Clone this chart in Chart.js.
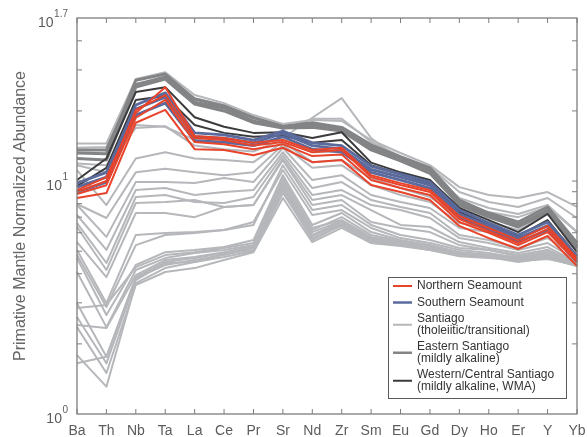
<!DOCTYPE html>
<html>
<head>
<meta charset="utf-8">
<script src="https://cdn.jsdelivr.net/npm/chart.js@4.4.0/dist/chart.umd.min.js"></script>
<style>
  html, body { margin: 0; padding: 0; background: #fff; }
</style>
</head>
<body>
<canvas id="grafico" width="587" height="437"></canvas>
<script>
// Elementos (eje x)
const elementos = ['Ba','Th','Nb','Ta','La','Ce','Pr','Sr','Nd','Zr','Sm','Eu','Gd','Dy','Ho','Er','Y','Yb'];

// Northern Seamount
const northern = [
  [9.15,10.4,19.6,25.3,15.6,15.3,14.6,15.0,13.6,13.9,10.6,9.8,9.15,7.08,6.29,5.58,6.42,4.67],
  [8.97,10.0,20.2,23.4,15.3,15.0,14.2,14.7,13.3,13.6,10.4,9.61,8.97,6.87,6.1,5.42,6.23,4.58],
  [8.8,9.6,18.7,22.3,14.7,14.4,13.7,14.4,12.8,13.0,10.1,9.33,8.71,6.67,5.99,5.31,6.04,4.49],
  [8.46,8.88,17.8,20.2,13.7,13.6,12.9,13.9,12.05,12.3,9.61,8.97,8.29,6.42,5.69,5.11,5.81,4.32]
];

// Southern Seamount
const southern = [
  [9.8,10.9,21.2,23.9,16.1,15.8,15.0,16.4,14.6,14.2,11.6,10.7,9.9,7.51,6.6,5.87,6.67,4.76],
  [9.42,10.4,20.4,22.9,15.5,15.3,14.6,16.0,14.2,13.7,11.2,10.4,9.61,7.22,6.42,5.69,6.42,4.63],
  [8.97,9.9,19.2,21.6,14.9,14.7,14.2,15.5,13.7,13.3,10.9,10.1,9.33,6.94,6.16,5.47,6.16,4.49]
];

// Western/Central Santiago (mildly alkaline, WMA)
const western = [
  [10.1,12.5,24.1,25.3,18.8,17.1,16.1,16.2,15.3,16.2,12.0,10.9,10.1,7.66,6.8,6.04,7.22,4.95],
  [9.52,11.4,22.3,23.2,17.4,16.1,15.5,15.7,14.6,15.0,11.7,10.7,9.8,7.36,6.54,5.81,6.8,4.76]
];

// Eastern Santiago (mildly alkaline)
const eastern = [
  [13.2,13.1,27.1,28.8,22.5,21.0,18.7,17.2,17.8,17.0,14.3,12.7,11.4,8.29,7.29,6.67,7.74,5.42],
  [13.6,13.6,26.0,27.9,21.8,20.6,18.1,17.0,17.4,16.7,13.9,12.4,11.15,8.05,7.15,6.48,7.51,5.26],
  [12.5,12.3,25.3,27.4,21.4,20.0,17.8,16.9,17.0,16.4,13.6,12.2,10.8,7.89,7.0,6.35,7.36,5.16]
];

// Santiago (tholeiitic/transitional)
const santiago = [
  [14.5,14.5,27.4,29.3,23.4,21.6,19.2,17.6,18.3,18.1,15.0,13.2,11.7,9.42,8.71,8.46,8.97,7.74],
  [13.9,14.0,25.8,28.2,22.7,21.2,18.8,16.7,18.5,18.5,14.7,12.8,11.5,8.97,8.13,7.74,8.46,6.94],
  [11.7,10.9,17.4,17.1,15.0,14.6,14.2,15.3,18.7,22.7,15.3,12.3,10.9,8.46,7.66,7.22,7.89,6.04],
  [11.9,11.7,16.9,17.2,14.2,13.7,13.4,15.1,13.3,13.4,11.4,10.5,9.7,7.82,7.36,7.0,7.74,6.04],
  [11.15,7.89,12.5,13.3,12.5,12.3,12.05,14.7,12.05,12.3,10.3,9.33,8.54,7.0,6.67,6.16,7.29,5.31],
  [7.97,6.94,10.9,11.3,10.9,10.6,10.9,14.3,11.4,11.7,9.61,8.71,8.13,6.6,6.29,5.69,6.48,5.06],
  [7.89,5.76,9.9,9.9,9.8,10.3,9.9,13.9,10.1,10.6,8.71,8.13,7.66,6.29,6.04,5.47,6.16,4.81],
  [7.15,5.06,9.15,9.33,8.71,8.97,9.15,13.3,9.33,9.9,8.29,7.74,7.29,5.87,5.58,5.16,5.69,4.72],
  [6.6,4.45,8.54,8.71,8.13,8.05,8.54,12.9,8.71,9.15,7.89,7.51,6.94,5.69,5.42,5.06,5.42,4.58],
  [6.35,4.15,8.05,8.13,8.29,7.74,7.89,12.5,8.29,8.71,7.51,6.48,6.35,5.47,5.16,4.91,5.21,4.49],
  [5.47,3.87,7.29,7.29,7.0,7.74,7.89,12.3,7.89,8.29,6.67,6.29,6.04,5.31,5.06,4.81,5.06,4.45],
  [5.06,2.99,5.87,5.99,6.04,6.16,6.48,11.7,7.51,7.89,6.48,5.87,5.58,5.16,5.06,4.76,5.06,4.36],
  [4.81,2.88,5.31,5.87,5.99,6.16,6.67,11.15,7.15,7.51,6.29,5.69,5.42,5.06,4.91,4.67,4.95,4.36],
  [4.67,2.66,4.36,4.95,5.06,5.21,5.58,10.6,6.48,7.29,6.04,5.58,5.31,4.95,4.81,4.67,4.81,4.36],
  [4.07,2.36,4.15,4.67,4.91,5.06,5.31,10.1,6.29,6.8,5.76,5.47,5.21,4.81,4.72,4.49,4.67,4.32],
  [2.99,1.76,3.87,4.49,4.67,4.91,5.21,9.61,5.87,6.67,5.58,5.37,5.16,4.91,4.76,4.63,4.72,4.40],
  [2.61,1.65,3.76,4.45,4.49,4.86,5.06,9.15,5.58,6.48,5.42,5.31,5.06,4.76,4.67,4.58,4.67,4.32],
  [2.36,1.50,3.58,4.07,4.23,4.58,4.95,8.46,5.47,6.29,5.42,5.26,5.06,4.81,4.72,4.67,4.95,4.45],
  [1.79,1.31,3.65,4.23,4.49,4.72,5.01,8.88,5.69,6.42,5.53,5.31,5.11,4.86,4.76,4.54,4.63,4.36],
  [1.65,1.76,3.83,4.36,4.58,4.81,5.16,9.33,5.81,6.54,5.64,5.37,5.21,4.95,4.81,4.72,4.86,4.40],
  [2.41,2.34,3.95,4.58,4.72,4.95,5.26,9.8,6.04,6.74,5.69,5.42,5.21,4.86,4.76,4.63,4.76,4.36],
  [2.85,2.94,4.27,4.81,4.95,5.16,5.42,10.3,6.16,7.0,5.87,5.53,5.26,4.91,4.81,4.67,4.81,4.40]
];

// Eje y: marcas y etiquetas
const yMin = 1;
const yMax = 50.1187;
const yEtiquetas = [1, 10, 50.1187];
const yExponentes = ['0', '1', '1.7'];
const yMenores = [2, 3, 4, 5, 6, 7, 8, 9, 20, 30, 40];

// Leyenda
const leyendaTextos = [
  ['Northern Seamount'],
  ['Southern Seamount'],
  ['Santiago', '(tholeiitic/transitional)'],
  ['Eastern Santiago', '(mildly alkaline)'],
  ['Western/Central Santiago', '(mildly alkaline, WMA)']
];

const colores = {
  northern: '#e8432b',
  southern: '#5b6a9d',
  santiago: '#b5b7ba',
  eastern: '#838486',
  western: '#3b3b3d'
};
const leyendaColores = [colores.northern, colores.southern, colores.santiago, colores.eastern, colores.western];
const leyendaAnchos = [2, 2.5, 2, 2.5, 2];

function grupo(muestras, color, ancho, orden) {
  return muestras.map(d => ({
    data: d,
    borderColor: color,
    borderWidth: ancho,
    pointRadius: 0,
    tension: 0,
    fill: false,
    borderJoinStyle: 'round',
    order: orden
  }));
}

const datasets = [].concat(
  grupo(northern, colores.northern, 2, 0),
  grupo(southern, colores.southern, 2.8, 1),
  grupo(western, colores.western, 2, 2),
  grupo(eastern, colores.eastern, 3, 3),
  grupo(santiago, colores.santiago, 2, 4)
);

// Dibuja ejes, marcas, etiquetas y leyenda sobre el gráfico
const marco = {
  id: 'marco',
  afterDraw(chart) {
    const ctx = chart.ctx;
    const a = chart.chartArea;
    const x = chart.scales.x;
    const y = chart.scales.y;
    ctx.save();

    const linea = (x1, y1, x2, y2) => {
      ctx.beginPath(); ctx.moveTo(x1, y1); ctx.lineTo(x2, y2); ctx.stroke();
    };

    // caja
    ctx.strokeStyle = '#7d7d7d';
    ctx.lineWidth = 1.3;
    ctx.strokeRect(a.left, a.top, a.right - a.left, a.bottom - a.top);

    // marcas x
    ctx.lineWidth = 1;
    ctx.fillStyle = '#5c5c5c';
    ctx.font = '14px "Liberation Sans", Arial, sans-serif';
    ctx.textAlign = 'center';
    ctx.textBaseline = 'middle';
    elementos.forEach((el, i) => {
      const px = x.getPixelForValue(i);
      linea(px, a.bottom, px, a.bottom - 5);
      linea(px, a.top, px, a.top + 5);
      ctx.fillText(el, px, a.bottom + 17);
    });

    // marcas y
    yMenores.concat(yEtiquetas.slice(1, 2)).forEach(v => {
      const py = y.getPixelForValue(v);
      linea(a.left, py, a.left + 5, py);
      linea(a.right, py, a.right - 5, py);
    });

    // etiquetas y con exponente
    yEtiquetas.forEach((v, i) => {
      const py = y.getPixelForValue(v);
      const exp = yExponentes[i];
      ctx.font = '10px "Liberation Sans", Arial, sans-serif';
      const wExp = ctx.measureText(exp).width;
      const xFin = a.left - 9;
      ctx.textAlign = 'right';
      ctx.fillText(exp, xFin, py - 4);
      ctx.font = '14px "Liberation Sans", Arial, sans-serif';
      ctx.fillText('10', xFin - wExp - 0.5, py + 5);
    });

    // título eje y
    ctx.save();
    ctx.translate(21, (a.top + a.bottom) / 2);
    ctx.rotate(-Math.PI / 2);
    ctx.textAlign = 'center';
    ctx.font = '16px "Liberation Sans", Arial, sans-serif';
    ctx.fillStyle = '#666';
    ctx.fillText('Primative Mantle Normalized Abundance', 0, 0);
    ctx.restore();

    // leyenda
    const lx = 388, ly = 277, lw = 178, lh = 121;
    ctx.fillStyle = '#fff';
    ctx.fillRect(lx, ly, lw, lh);
    ctx.strokeStyle = '#5a5a5a';
    ctx.lineWidth = 1;
    ctx.strokeRect(lx + 0.5, ly + 0.5, lw, lh);
    ctx.font = '12px "Liberation Sans", Arial, sans-serif';
    ctx.textAlign = 'left';
    ctx.textBaseline = 'middle';
    let yy = 286;
    leyendaTextos.forEach((lineas, i) => {
      const centro = yy + (lineas.length - 1) * 11.5 / 2;
      ctx.strokeStyle = leyendaColores[i];
      ctx.lineWidth = leyendaAnchos[i];
      linea(393, centro, 412, centro);
      ctx.fillStyle = '#333';
      lineas.forEach((t, k) => ctx.fillText(t, 417, yy + k * 11.5));
      yy += lineas.length * 11.5 + 5;
    });

    ctx.restore();
  }
};

new Chart(document.getElementById('grafico').getContext('2d'), {
  type: 'line',
  data: { labels: elementos, datasets: datasets },
  options: {
    responsive: false,
    animation: false,
    devicePixelRatio: 1,
    layout: { padding: { left: 77, right: 10, top: 18, bottom: 23 } },
    plugins: { legend: { display: false }, tooltip: { enabled: false } },
    scales: {
      x: { type: 'category', display: false, offset: false },
      y: { type: 'logarithmic', display: false, min: yMin, max: yMax }
    }
  },
  plugins: [marco]
});
</script>
</body>
</html>
